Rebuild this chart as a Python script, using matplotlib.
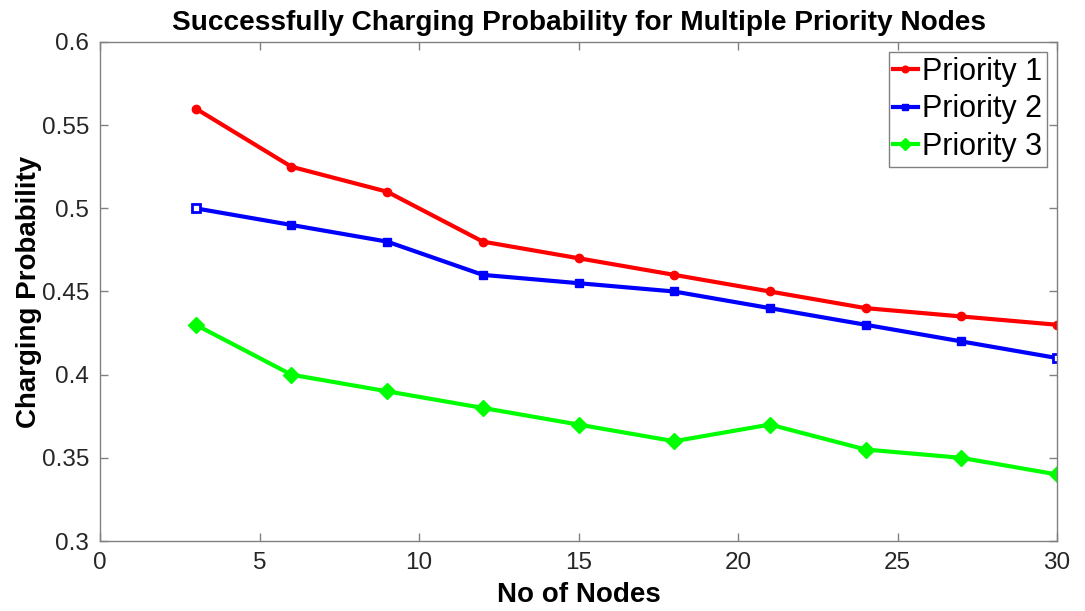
import matplotlib
matplotlib.use('Agg')
import matplotlib.pyplot as plt

plt.rcParams['font.family'] = ['Liberation Sans', 'DejaVu Sans']

nodes = [3, 6, 9, 12, 15, 18, 21, 24, 27, 30]
priority1 = [0.56, 0.525, 0.51, 0.48, 0.47, 0.46, 0.45, 0.44, 0.435, 0.43]
priority2 = [0.50, 0.49, 0.48, 0.46, 0.455, 0.45, 0.44, 0.43, 0.42, 0.41]
priority3 = [0.43, 0.40, 0.39, 0.38, 0.37, 0.36, 0.37, 0.355, 0.35, 0.34]

x_ticks = [0, 5, 10, 15, 20, 25, 30]
y_ticks = [0.3, 0.35, 0.4, 0.45, 0.5, 0.55, 0.6]
y_tick_labels = ['0.3', '0.35', '0.4', '0.45', '0.5', '0.55', '0.6']

fig = plt.figure(figsize=(10.85, 6.11), dpi=100)
ax = fig.add_axes([100 / 1085, 1 - 541 / 611, 957 / 1085, 499 / 611])

ax.plot(nodes, priority1, color='#ff0000', linewidth=3, marker='o', markersize=6,
        label='Priority 1')
ax.plot(nodes, priority2, color='#0000ff', linewidth=3, marker='s', markersize=6,
        label='Priority 2')
# first and last squares look hollow in the original
ax.plot([nodes[0], nodes[-1]], [priority2[0], priority2[-1]], linestyle='none',
        marker='s', markersize=6, markerfacecolor='white', markeredgecolor='#0000ff',
        markeredgewidth=2)
ax.plot(nodes, priority3, color='#00ff00', linewidth=3, marker='D', markersize=8,
        label='Priority 3')

ax.set_xlim(0, 30)
ax.set_ylim(0.3, 0.6)
ax.set_xticks(x_ticks)
ax.set_yticks(y_ticks)
ax.set_yticklabels(y_tick_labels)

gray = '#262626'
for side in ax.spines.values():
    side.set_color('#808080')
    side.set_linewidth(1)
ax.tick_params(direction='in', length=6, width=1, color='#808080', labelsize=17.5,
               labelcolor=gray, top=True, right=True, pad=8)

ax.set_title('Successfully Charging Probability for Multiple Priority Nodes',
             fontsize=20.2, fontweight='bold', pad=9)
ax.set_xlabel('No of Nodes', fontsize=20, fontweight='bold', labelpad=6)
ax.set_ylabel('Charging Probability', fontsize=20, fontweight='bold', labelpad=0)

leg = ax.legend(loc='upper right', fontsize=22, fancybox=False, framealpha=1,
                edgecolor='#808080', handlelength=0.8, handletextpad=0.15,
                borderpad=0.15, labelspacing=0.25, borderaxespad=0.33,
                markerscale=0.8)
leg.get_frame().set_linewidth(1)

fig.savefig('out.png', dpi=100)
